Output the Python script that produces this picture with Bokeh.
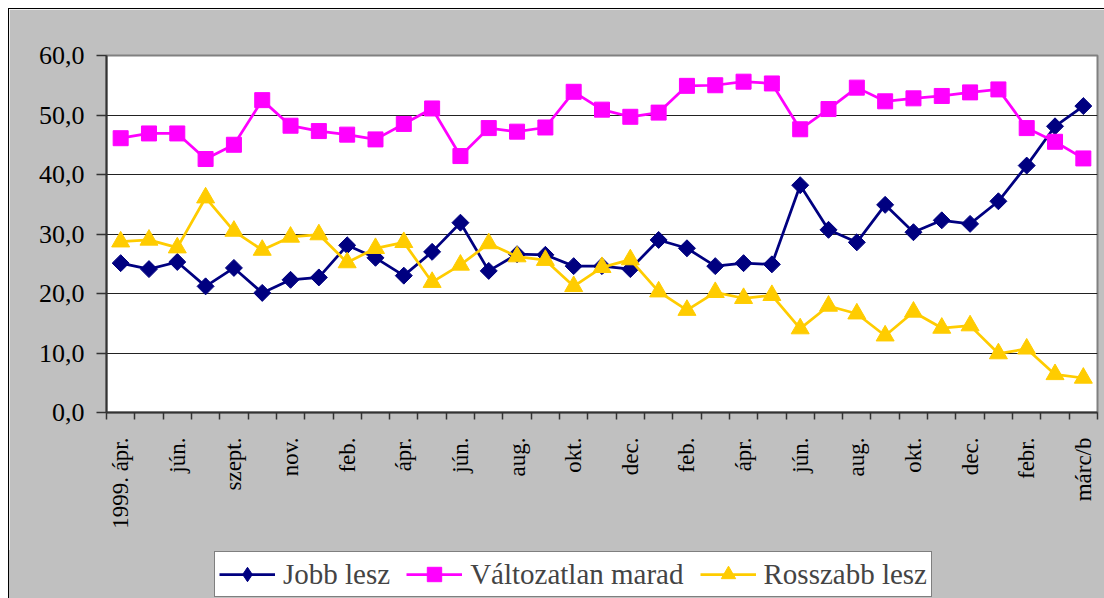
import numpy as np
from bokeh.plotting import figure
from bokeh.models import Range1d, FixedTicker, Legend, LegendItem, Spacer
from bokeh.layouts import column, row
from bokeh.embed import file_html
from bokeh.resources import INLINE

# ---- data ----
x_idx = list(range(35))
tick_idx = list(range(0, 35, 2))
tick_labels = ["1999. ápr.", "jún.", "szept.", "nov.", "feb.", "ápr.", "jún.",
               "aug.", "okt.", "dec.", "feb.", "ápr.", "jún.", "aug.", "okt.",
               "dec.", "febr.", "márc/b"]

jobb = [25.1, 24.1, 25.3, 21.2, 24.3, 20.1, 22.3, 22.7, 28.1, 26.0, 23.0, 27.0,
        31.9, 23.8, 26.6, 26.5, 24.6, 24.6, 24.1, 29.0, 27.6, 24.6, 25.1, 24.9,
        38.2, 30.7, 28.6, 34.9, 30.3, 32.3, 31.7, 35.5, 41.5, 48.1, 51.5]
valt = [46.1, 46.9, 46.9, 42.6, 45.0, 52.5, 48.2, 47.3, 46.7, 45.9, 48.5, 51.1,
        43.1, 47.8, 47.2, 47.9, 53.9, 50.9, 49.7, 50.4, 54.9, 55.0, 55.6, 55.3,
        47.6, 51.0, 54.6, 52.3, 52.8, 53.2, 53.8, 54.3, 47.8, 45.5, 42.7]
rossz = [28.7, 29.0, 27.7, 36.1, 30.5, 27.3, 29.5, 29.9, 25.2, 27.6, 28.6, 21.9,
         24.8, 28.4, 26.2, 25.6, 21.2, 24.4, 25.7, 20.3, 17.2, 20.2, 19.2, 19.7,
         14.1, 17.9, 16.6, 12.9, 16.9, 14.2, 14.6, 9.9, 10.7, 6.4, 5.8]

series_names = ["Jobb lesz", "Változatlan marad", "Rosszabb lesz"]

y_ticks = [0, 10, 20, 30, 40, 50, 60]
y_tick_labels = ["0,0", "10,0", "20,0", "30,0", "40,0", "50,0", "60,0"]

FONT = "Liberation Serif"
GRAY = "#C0C0C0"
colors = ["#000080", "#FF00FF", "#FFCC00"]
markers = [("square", 12, np.pi / 4), ("square", 15, 0), ("triangle", 18, 0)]
legend_markers = ["diamond", "square", "triangle"]
LW = 2.75

p = figure(width=1095, height=541, output_backend="svg", toolbar_location=None,
           x_range=Range1d(-0.5, 34.5), y_range=Range1d(0, 60),
           min_border_left=97, min_border_right=7, min_border_top=46,
           min_border_bottom=138)
p.border_fill_color = GRAY
p.background_fill_color = "white"
p.outline_line_color = "#808080"
p.outline_line_width = 2

# grid
p.xgrid.visible = False
p.ygrid.ticker = FixedTicker(ticks=y_ticks)
p.ygrid.grid_line_color = "#222222"
p.ygrid.grid_line_width = 1

# y axis
p.yaxis.ticker = FixedTicker(ticks=y_ticks)
p.yaxis.major_label_overrides = {t: l for t, l in zip(y_ticks, y_tick_labels)}
p.yaxis.major_label_text_font = FONT
p.yaxis.major_label_text_font_size = "26px"
p.yaxis.major_label_text_color = "black"
p.yaxis.major_tick_out = 10
p.yaxis.major_tick_in = 0
p.yaxis.minor_tick_out = 0
p.yaxis.minor_tick_in = 0
p.yaxis.major_label_standoff = 12
p.yaxis.axis_line_color = "#333333"
p.yaxis.axis_line_width = 2
p.yaxis.major_tick_line_color = "#333333"
p.yaxis.major_tick_line_width = 1.5

# x axis
p.xaxis.ticker = FixedTicker(ticks=tick_idx,
                             minor_ticks=[i - 0.5 for i in range(36)])
p.xaxis.major_label_overrides = {t: l for t, l in zip(tick_idx, tick_labels)}
p.xaxis.major_label_orientation = np.pi / 2
p.xaxis.major_label_text_font = FONT
p.xaxis.major_label_text_font_size = "23px"
p.xaxis.major_label_text_color = "black"
p.xaxis.major_tick_out = 0
p.xaxis.major_tick_in = 0
p.xaxis.minor_tick_out = 7
p.xaxis.minor_tick_in = 0
p.xaxis.minor_tick_line_color = "#333333"
p.xaxis.minor_tick_line_width = 1.5
p.xaxis.major_label_standoff = 18
p.xaxis.axis_line_color = "#333333"
p.xaxis.axis_line_width = 2

all_series = [jobb, valt, rossz]
for ys, col, (mk, sz, ang) in zip(all_series, colors, markers):
    p.line(x_idx, ys, line_color=col, line_width=LW)
    p.scatter(x_idx, ys, marker=mk, size=sz, angle=ang,
              fill_color=col, line_color=col)

# ---- legend strip (separate small figure, same styles) ----
lf = figure(width=1095, height=48, output_backend="svg", toolbar_location=None,
            x_range=Range1d(-0.5, 34.5), y_range=Range1d(0, 60),
            x_axis_type=None, y_axis_type=None,
            min_border_left=0, min_border_right=0, min_border_top=0,
            min_border_bottom=0)
lf.border_fill_color = None
lf.background_fill_color = None
lf.outline_line_color = None
lf.xgrid.visible = False
lf.ygrid.visible = False
lf.styles = {"background-color": GRAY}

items = []
for name, ys, col, lmk in zip(series_names, all_series, colors, legend_markers):
    ln = lf.line(x_idx, ys, line_color=col, line_width=LW, visible=False)
    sc = lf.scatter(x_idx, ys, marker=lmk, fill_color=col,
                    line_color=col, visible=False)
    items.append(LegendItem(label=name, renderers=[ln, sc]))

legend = Legend(items=items, location=(108, 1), orientation="horizontal",
                label_text_font=FONT, label_text_font_size="29px",
                glyph_width=56, glyph_height=36, label_height=36,
                padding=4, spacing=16, label_standoff=8,
                border_line_color="black", border_line_width=1.5,
                background_fill_color="white", background_fill_alpha=1,
                inactive_fill_alpha=0, margin=0)
lf.add_layout(legend, "center")

inner = column(p, lf, spacing=0)
inner.styles = {"outline": "1px solid black"}
layout = column(Spacer(height=9), row(Spacer(width=9), inner, spacing=0),
                spacing=0)

open("out.html", "w").write(file_html(layout, INLINE))
